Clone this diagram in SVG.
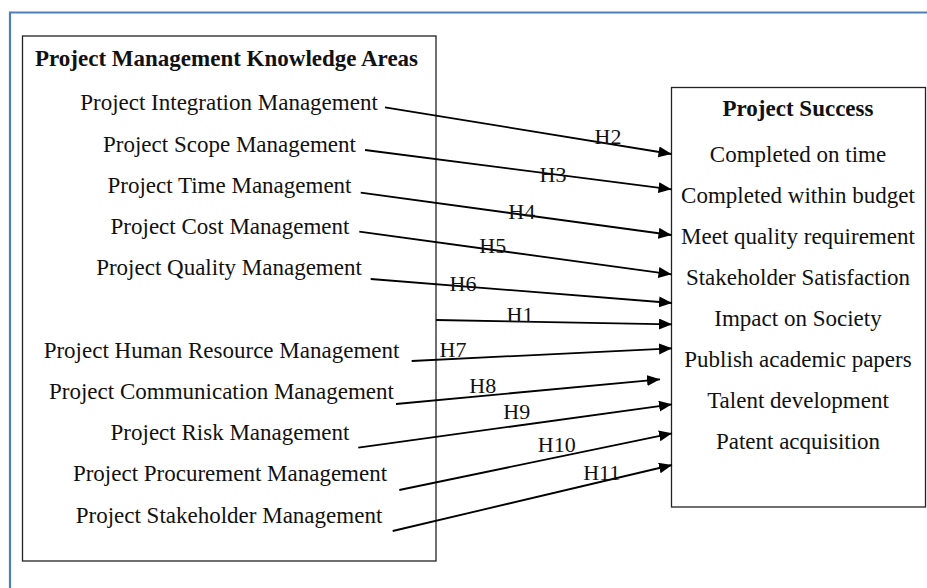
<svg xmlns="http://www.w3.org/2000/svg" width="927" height="588" viewBox="0 0 927 588">
<style>
  text { font-family: "Liberation Serif", "Times New Roman", serif; font-size: 23px; fill: #111; }
  .title { font-weight: bold; }
  .mid { text-anchor: middle; }
  .lbl { font-size: 22px; text-anchor: middle; }
  .box { fill: #fff; stroke: #222; stroke-width: 1.3; }
  .conn line { stroke: #000; stroke-width: 1.8; marker-end: url(#arrow); }
  .frame { fill: none; stroke: #4f7fb8; stroke-width: 2.2; }
</style>
<defs>
  <marker id="arrow" markerUnits="userSpaceOnUse" markerWidth="14" markerHeight="12" refX="13" refY="5.5" orient="auto">
    <path d="M0,0 L13,5.5 L0,11 z" fill="#000"/>
  </marker>
</defs>
<rect width="927" height="588" fill="#fff"/>
<path class="frame" d="M10,588 V12.5 H927"/>

<g id="knowledge-areas">
  <rect class="box" x="22.5" y="36" width="413.5" height="525"/>
  <text class="title" x="35" y="66">Project Management Knowledge Areas</text>
</g>
<g id="integration"><text class="mid" x="229" y="110">Project Integration Management</text></g>
<g id="scope"><text class="mid" x="229.5" y="151.5">Project Scope Management</text></g>
<g id="time"><text class="mid" x="229.5" y="192.5">Project Time Management</text></g>
<g id="cost"><text class="mid" x="230" y="234">Project Cost Management</text></g>
<g id="quality"><text class="mid" x="229" y="275">Project Quality Management</text></g>
<g id="human-resource"><text class="mid" x="221.5" y="358">Project Human Resource Management</text></g>
<g id="communication"><text class="mid" x="221.5" y="399">Project Communication Management</text></g>
<g id="risk"><text class="mid" x="230" y="440">Project Risk Management</text></g>
<g id="procurement"><text class="mid" x="230" y="481">Project Procurement Management</text></g>
<g id="stakeholder"><text class="mid" x="229" y="522.5">Project Stakeholder Management</text></g>

<g id="project-success">
  <rect class="box" x="671.5" y="87.5" width="254" height="419.5"/>
  <text class="title mid" x="798" y="116">Project Success</text>
  <text class="mid" x="798" y="162">Completed on time</text>
  <text class="mid" x="798" y="203">Completed within budget</text>
  <text class="mid" x="798" y="244">Meet quality requirement</text>
  <text class="mid" x="798" y="285">Stakeholder Satisfaction</text>
  <text class="mid" x="798" y="326">Impact on Society</text>
  <text class="mid" x="798" y="367">Publish academic papers</text>
  <text class="mid" x="798" y="408">Talent development</text>
  <text class="mid" x="798" y="449">Patent acquisition</text>
</g>

<g id="connectors" class="conn">
  <line x1="385" y1="107.3" x2="671.5" y2="154"/>
  <line x1="365" y1="150" x2="671.5" y2="189.3"/>
  <line x1="360.7" y1="192.7" x2="671.5" y2="235"/>
  <line x1="359.3" y1="231.7" x2="671.5" y2="274.3"/>
  <line x1="370.7" y1="279" x2="672" y2="303"/>
  <line x1="436" y1="320" x2="672" y2="324.3"/>
  <line x1="411.7" y1="361" x2="672" y2="348.3"/>
  <line x1="396" y1="404" x2="660" y2="379.3"/>
  <line x1="358.3" y1="447.7" x2="672" y2="404.3"/>
  <line x1="399.3" y1="490" x2="672" y2="433.3"/>
  <line x1="392.7" y1="531" x2="672" y2="465"/>
  <text class="lbl" x="608" y="143.5">H2</text>
  <text class="lbl" x="553" y="181.5">H3</text>
  <text class="lbl" x="521.7" y="218.5">H4</text>
  <text class="lbl" x="492.7" y="252.5">H5</text>
  <text class="lbl" x="463" y="290.5">H6</text>
  <text class="lbl" x="520" y="321.5">H1</text>
  <text class="lbl" x="453" y="356.8">H7</text>
  <text class="lbl" x="482.7" y="392.5">H8</text>
  <text class="lbl" x="516.7" y="419.2">H9</text>
  <text class="lbl" x="556.7" y="451.5">H10</text>
  <text class="lbl" x="601.7" y="480.2">H11</text>
</g>
</svg>
